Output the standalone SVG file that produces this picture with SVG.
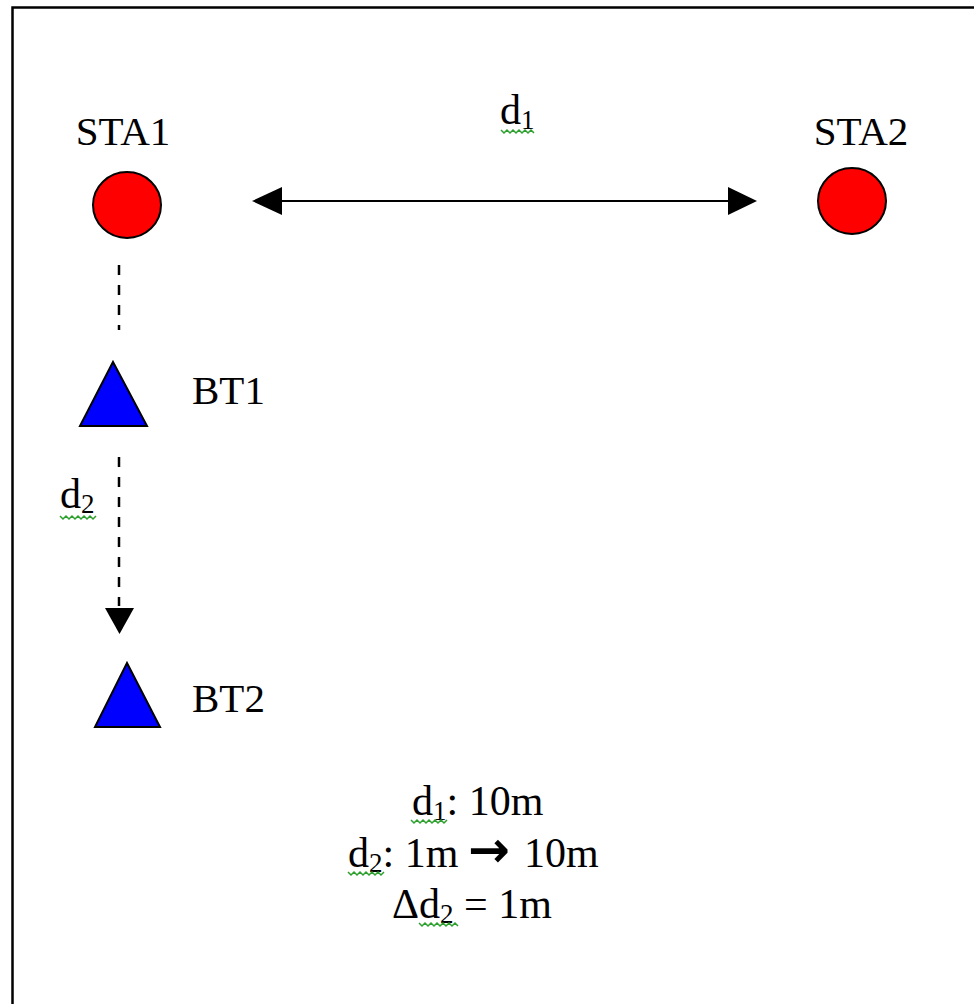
<svg xmlns="http://www.w3.org/2000/svg" width="974" height="1004" viewBox="0 0 974 1004">
<style>
.lbl{font-family:"Liberation Serif","Times New Roman",serif;font-size:41px;fill:#000}
.note{font-family:"Liberation Serif","Times New Roman",serif;font-size:42px;fill:#000}
.sub{font-size:27px}
.arr{font-family:"DejaVu Sans",sans-serif;font-weight:bold;font-size:50px}
.sta{fill:#ff0000;stroke:#000;stroke-width:2}
.bt{fill:#0000ff;stroke:#000;stroke-width:2}
.sq{fill:none;stroke:#2ca02c;stroke-width:1.5}
</style>
<rect width="974" height="1004" fill="#fff"/>
<g id="frame"><path d="M12.5,1004 V7.5 H974" fill="none" stroke="#000" stroke-width="2.5"/></g>
<g id="sta1"><ellipse class="sta" cx="127" cy="205" rx="34" ry="33"/><text class="lbl" x="123" y="145" text-anchor="middle">STA1</text></g>
<g id="sta2"><ellipse class="sta" cx="852" cy="201" rx="34" ry="33"/><text class="lbl" x="861" y="145" text-anchor="middle">STA2</text></g>
<g id="bt1"><polygon class="bt" points="113,362 147,426 80,426"/><text class="lbl" x="192" y="404">BT1</text></g>
<g id="bt2"><polygon class="bt" points="127,663 160,727 95,727"/><text class="lbl" x="192" y="712">BT2</text></g>
<g id="connectors">
<line x1="281" y1="201" x2="729" y2="201" stroke="#000" stroke-width="2"/>
<polygon points="252,201 282,187 282,215" fill="#000"/>
<polygon points="757,201 728,187 728,215" fill="#000"/>
<line x1="119" y1="265" x2="119" y2="330" stroke="#000" stroke-width="2.5" stroke-dasharray="10,10"/>
<line x1="119" y1="457" x2="119" y2="606" stroke="#000" stroke-width="2.5" stroke-dasharray="10,10"/>
<polygon points="105,608 134,608 119.5,634" fill="#000"/>
</g>
<g id="labels">
<text class="note" x="500" y="124">d<tspan class="sub" dy="5">1</tspan></text>
<polyline class="sq" points="501,130 504,133 507,130 510,133 513,130 516,133 519,130 522,133 525,130 528,133 531,130 534,133"/>
<text class="note" x="60" y="508">d<tspan class="sub" dy="5">2</tspan></text>
<polyline class="sq" points="60,516 63,519 66,516 69,519 72,516 75,519 78,516 81,519 84,516 87,519 90,516 93,519 96,516"/>
<text class="note" x="412" y="815">d<tspan class="sub" dy="5">1</tspan><tspan dy="-5">: 10m</tspan></text>
<polyline class="sq" points="411,820 414,823 417,820 420,823 423,820 426,823 429,820 432,823 435,820 438,823 441,820 444,823 447,820"/>
<text class="note" x="348" y="867">d<tspan class="sub" dy="5">2</tspan><tspan dy="-5">: 1m</tspan><tspan class="arr" x="468">→</tspan><tspan x="524">10m</tspan></text>
<polyline class="sq" points="348,872 351,875 354,872 357,875 360,872 363,875 366,872 369,875 372,872 375,875 378,872 381,875 384,872"/>
<text class="note" x="392" y="918">Δd<tspan class="sub" dy="5">2</tspan><tspan dy="-5"> = 1m</tspan></text>
<polyline class="sq" points="419,923 422,926 425,923 428,926 431,923 434,926 437,923 440,926 443,923 446,926 449,923 452,926 455,923 458,926"/>
</g>
</svg>
